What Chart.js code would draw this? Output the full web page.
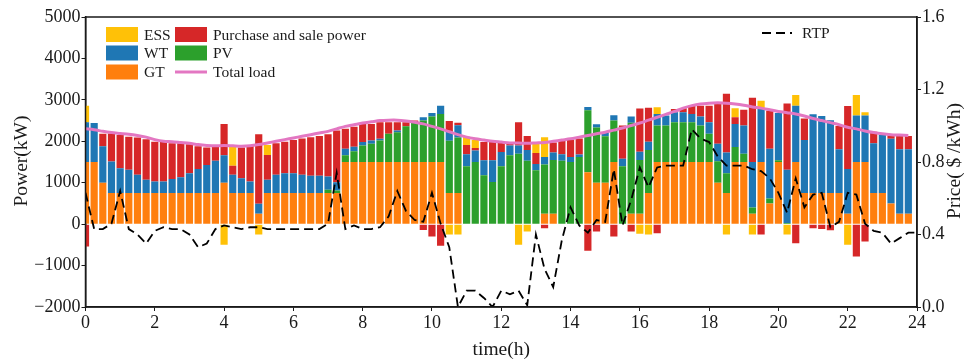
<!DOCTYPE html>
<html>
<head>
<meta charset="utf-8">
<script src="https://cdn.jsdelivr.net/npm/chart.js@4.4.0/dist/chart.umd.min.js"></script>
<style>
    html, body { margin: 0; padding: 0; background: #fff; }
    #wrap { width: 965px; height: 363px; }
</style>
</head>
<body>
<div id="wrap"><canvas id="chart" width="965" height="363"></canvas></div>
<script>
// quarter-hour slots (h)
var hours = [0,0.25,0.5,0.75,1,1.25,1.5,1.75,2,2.25,2.5,2.75,3,3.25,3.5,3.75,
    4,4.25,4.5,4.75,5,5.25,5.5,5.75,6,6.25,6.5,6.75,7,7.25,7.5,7.75,
    8,8.25,8.5,8.75,9,9.25,9.5,9.75,10,10.25,10.5,10.75,11,11.25,11.5,11.75,
    12,12.25,12.5,12.75,13,13.25,13.5,13.75,14,14.25,14.5,14.75,15,15.25,15.5,15.75,
    16,16.25,16.5,16.75,17,17.25,17.5,17.75,18,18.25,18.5,18.75,19,19.25,19.5,19.75,
    20,20.25,20.5,20.75,21,21.25,21.5,21.75,22,22.25,22.5,22.75,23,23.25,23.5,23.75];

// power (kW)
var gt = [1500,1500,1000,750, 750,750,750,750, 750,750,750,750, 750,750,750,750,
    1000,750,750,750, 250,750,750,750, 750,750,750,750, 750,750,1500,1500,
    1500,1500,1500,1500, 1500,1500,1500,1500, 1500,1500,750,750, 0,0,0,0,
    0,0,0,0, 0,250,250,0, 0,0,1250,1000, 1000,1500,0,250,
    250,750,1500,1500, 1500,1500,1500,1500, 1500,1000,750,1500, 1500,250,1500,500,
    1500,0,1500,750, 750,750,750,750, 250,1500,1500,750, 750,500,250,250];

var pv = [0,0,0,0, 0,0,0,0, 0,0,0,0, 0,0,0,0,
    0,0,0,0, 0,0,0,0, 0,0,0,0, 80,60,160,260,
    400,440,520,680, 720,860,960,1000, 1100,1160,1260,1340, 1400,1500,1180,1020,
    1400,1660,1700,1530, 1300,1190,1300,1530, 1500,1620,1500,1330, 1120,1000,1400,2200,
    1300,1040,880,880, 960,960,960,880, 680,520,480,360, 200,150,0,120,
    40,30,0,0, 0,0,0,0, 0,0,0,0, 0,0,0,0];

var wt = [960,940,880,760, 600,560,440,320, 280,280,340,380, 480,580,680,780,
    660,440,360,280, 240,320,440,480, 480,440,420,420, 320,200,160,110,
    80,80,40,0, 40,0,0,80, 80,200,220,300, 290,280,360,520,
    340,240,200,260, 150,180,180,160, 120,60,80,80, 100,130,180,150,
    200,200,280,240, 240,240,200,220, 280,420,500,560, 680,1100,1280,1200,
    1140,1280,1360,1280, 1900,1860,1760,1060, 1080,1120,1120,1200, 1400,1560,1560,1560];

var purchase = [-540,0,300,680, 800,800,900,980, 960,980,860,820, 700,550,420,330,
    760,220,740,860, 1680,600,760,760, 800,880,930,960, 1020,1250,480,480,
    440,400,400,280, 200,100,40,-140, -300,-520,260,60, 220,60,440,440,
    220,80,560,340, 270,-100,240,320, 420,390,-640,-180, 0,-300,800,-180,
    1040,820,-220,0, 80,100,200,260, 400,960,1420,160, 380,1550,-250,920,
    0,1600,-460,520, -100,-120,-150,560, 1520,-780,-420,280, 0,80,320,320];

var ess = [400,0,0,0, 0,0,0,0, 0,0,0,0, 0,0,0,0,
    -500,450,0,0, -250,240,0,0, 0,0,0,0, 0,0,0,0,
    0,0,0,0, 0,0,0,0, 0,0,-250,-250, 200,190,0,0,
    0,0,-500,-180, 240,480,0,0, 0,0,0,0, 0,0,0,0,
    -230,-250,160,0, 0,0,0,0, 0,0,-250,220, 0,-250,200,0,
    0,-250,260,0, 0,0,0,0, -500,500,80,0, 0,0,0,0];

var totalLoad = [2300,2280,2240,2210, 2190,2170,2140,2100, 2040,2000,1990,1970, 1950,1920,1900,1890,
    1900,1890,1880,1890, 1920,1960,2000,2040, 2080,2120,2160,2200, 2240,2300,2360,2400,
    2440,2470,2500,2510, 2510,2490,2460,2420, 2360,2300,2230,2160, 2100,2060,2030,2000,
    1980,1960,1960,1950, 1960,1970,2000,2030, 2060,2100,2140,2180, 2220,2270,2320,2380,
    2440,2510,2580,2650, 2720,2800,2860,2900, 2920,2930,2920,2900, 2870,2830,2800,2760,
    2720,2690,2660,2610, 2550,2500,2450,2400, 2340,2300,2250,2210, 2180,2160,2150,2140];

// real-time price ($/kWh), one more point at 24 h
var rtpHours = hours.concat([24]);
var rtp = [0.63,0.43,0.43,0.46, 0.64,0.43,0.40,0.35, 0.42,0.44,0.43,0.43, 0.40,0.33,0.35,0.43,
    0.45,0.44,0.43,0.44, 0.44,0.43,0.43,0.43, 0.43,0.43,0.43,0.43, 0.46,0.74,0.43,0.45,
    0.43,0.43,0.44,0.50, 0.64,0.53,0.48,0.47, 0.63,0.46,0.33,0.0, 0.09,0.09,0.05,0.0,
    0.09,0.07,0.09,0.01, 0.40,0.21,0.11,0.37, 0.55,0.45,0.41,0.48, 0.47,0.76,0.45,0.59,
    0.77,0.66,0.77,0.78, 0.78,0.78,0.98,0.93, 0.91,0.83,0.78,0.78, 0.78,0.76,0.75,0.71,
    0.63,0.52,0.71,0.55, 0.62,0.63,0.44,0.47, 0.63,0.62,0.46,0.42, 0.41,0.35,0.38,0.41,
    0.41];

var cESS = '#ffc107', cWT = '#1f77b4', cGT = '#ff7f0e', cBuy = '#d62728', cPV = '#2ca02c', cLoad = '#e377c2';
var serif = '"Liberation Serif", "Times New Roman", serif';
var ink = '#1a1a1a';

function pts(xs, ys) {
    var out = [];
    for (var i = 0; i < ys.length; i++) out.push({x: xs[i], y: ys[i]});
    return out;
}

function barSet(label, values, color) {
    return {
        type: 'bar', label: label, data: pts(hours, values),
        backgroundColor: color, borderWidth: 0,
        barPercentage: 0.83, categoryPercentage: 1,
        order: 1, clip: 0, yAxisID: 'y'
    };
}

var decor = {
    id: 'decor',
    afterDraw: function(chart) {
        var ctx = chart.ctx, a = chart.chartArea;
        ctx.save();
        ctx.strokeStyle = ink;
        ctx.lineWidth = 1.5;
        ctx.strokeRect(a.left, a.top, a.right - a.left, a.bottom - a.top);

        // axis titles
        ctx.fillStyle = ink;
        ctx.font = '19.5px ' + serif;
        ctx.textAlign = 'center';
        ctx.textBaseline = 'middle';
        ctx.fillText('time(h)', (a.left + a.right) / 2, 350);
        ctx.save();
        ctx.translate(22, 161);
        ctx.rotate(-Math.PI / 2);
        ctx.fillText('Power(kW)', 0, 0);
        ctx.restore();
        ctx.save();
        ctx.translate(955, 161);
        ctx.rotate(-Math.PI / 2);
        ctx.fillText('Price( $ /kWh)', 0, 0);
        ctx.restore();

        // legend, two columns
        var rows = [34.5, 53, 72];
        var boxes = [
            [106, rows[0], cESS, 'ESS'], [106, rows[1], cWT, 'WT'], [106, rows[2], cGT, 'GT'],
            [175, rows[0], cBuy, 'Purchase and sale power'], [175, rows[1], cPV, 'PV']
        ];
        ctx.font = '15.5px ' + serif;
        ctx.textAlign = 'left';
        boxes.forEach(function(b) {
            ctx.fillStyle = b[2];
            ctx.fillRect(b[0], b[1] - 7.5, 32, 15);
            ctx.fillStyle = ink;
            ctx.fillText(b[3], b[0] + 38, b[1] + 1);
        });
        ctx.strokeStyle = cLoad;
        ctx.lineWidth = 3;
        ctx.beginPath();
        ctx.moveTo(175, rows[2]);
        ctx.lineTo(207, rows[2]);
        ctx.stroke();
        ctx.fillText('Total load', 213, rows[2] + 1);

        ctx.strokeStyle = '#000';
        ctx.lineWidth = 1.8;
        ctx.setLineDash([9, 5]);
        ctx.beginPath();
        ctx.moveTo(762, 33);
        ctx.lineTo(792, 33);
        ctx.stroke();
        ctx.setLineDash([]);
        ctx.fillText('RTP', 802, 34);
        ctx.restore();
    }
};

var tickFont = {family: serif, size: 18};

new Chart(document.getElementById('chart'), {
    data: {
        datasets: [
            {
                type: 'line', label: 'Total load', data: pts(hours, totalLoad),
                borderColor: cLoad, borderWidth: 3, pointRadius: 0, tension: 0.3,
                stack: 'load', order: 0, yAxisID: 'y'
            },
            {
                type: 'line', label: 'RTP', data: pts(rtpHours, rtp),
                borderColor: '#000', borderWidth: 1.8, borderDash: [9, 5],
                pointRadius: 0, tension: 0, order: 0, yAxisID: 'y2'
            },
            barSet('GT', gt, cGT),
            barSet('PV', pv, cPV),
            barSet('WT', wt, cWT),
            barSet('Purchase and sale power', purchase, cBuy),
            barSet('ESS', ess, cESS)
        ]
    },
    options: {
        responsive: false,
        animation: false,
        devicePixelRatio: 1,
        layout: {padding: {top: 17, left: 0, right: 0, bottom: 0}},
        plugins: {legend: {display: false}, tooltip: {enabled: false}},
        scales: {
            x: {
                type: 'linear', min: 0, max: 24, offset: false, stacked: true,
                ticks: {stepSize: 2, autoSkip: false, maxRotation: 0, padding: 1, color: ink, font: tickFont},
                grid: {drawOnChartArea: false, offset: false, tickLength: 4, color: ink},
                border: {color: ink, width: 1.5},
                afterFit: function(s) { s.height = 56; }
            },
            y: {
                type: 'linear', position: 'left', stacked: true, min: -2000, max: 5000,
                ticks: {
                    stepSize: 1000, padding: 1, color: ink, font: tickFont,
                    callback: function(v) { return String(v).replace('-', '\u2212'); }
                },
                grid: {drawOnChartArea: false, tickLength: 4, color: ink},
                border: {color: ink, width: 1.5},
                afterFit: function(s) { s.width = 85.5; }
            },
            y2: {
                type: 'linear', position: 'right', min: 0, max: 1.6,
                ticks: {
                    stepSize: 0.4, padding: 1, color: ink, font: tickFont,
                    callback: function(v) { return Number(v).toFixed(1); }
                },
                grid: {drawOnChartArea: false, tickLength: 4, color: ink},
                border: {color: ink, width: 1.5},
                afterFit: function(s) { s.width = 48; }
            }
        }
    },
    plugins: [decor]
});
</script>
</body>
</html>
